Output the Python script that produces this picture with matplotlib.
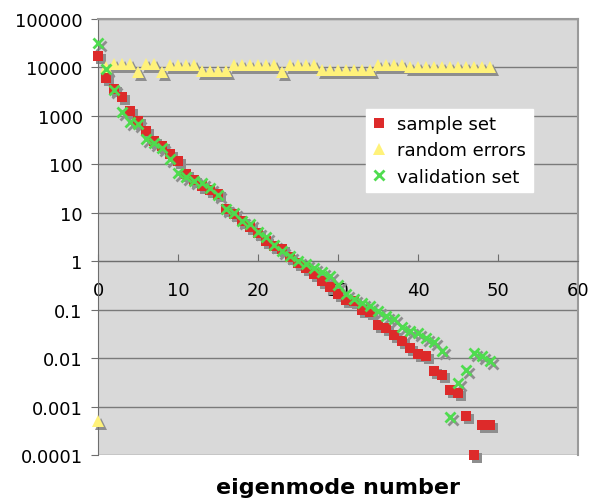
import numpy as np
import matplotlib
matplotlib.use("Agg")
import matplotlib.pyplot as plt
from matplotlib import transforms
from matplotlib.ticker import FixedLocator, FuncFormatter

# eigenvalue spectra per mode index
modes = np.arange(50)
sample_set = [17000, 6100, 3600, 2400, 1250, 780, 490, 300, 240, 160,
              117, 64, 48, 36, 29, 24, 12, 9.3, 6.8, 5.0,
              3.8, 2.6, 2.1, 1.8, 1.2, 0.93, 0.74, 0.54, 0.39, 0.29,
              0.21, 0.16, 0.15, 0.10, 0.09, 0.048, 0.042, 0.030, 0.023, 0.016,
              0.012, 0.011, 0.0054, 0.0044, 0.0022, 0.0019, 0.00065, 0.0001, 0.00042, 0.00042]
random_errors = [0.0005, 10000, 12000, 12000, 12000, 8200, 12000, 12000, 8200, 11500,
                 11500, 11500, 11500, 8600, 8600, 8600, 8600, 11500, 11500, 11500,
                 11500, 11500, 11500, 8200, 11000, 11000, 11000, 11000, 9000, 9000,
                 9000, 9000, 9000, 9000, 9000, 11000, 11000, 11000, 11000, 10000,
                 10000, 10000, 10000, 10000, 10000, 10000, 10000, 10000, 10000, 10000]
validation_set = [32000, 9400, 3400, 1200, 750, 680, 340, 280, 220, 130,
                  67, 56, 46, 42, 33, 23, 12, 10, 6.8, 5.8,
                  4.1, 3.1, 2.2, 1.6, 1.3, 1.0, 0.87, 0.74, 0.59, 0.5,
                  0.33, 0.21, 0.17, 0.14, 0.12, 0.095, 0.075, 0.064, 0.043, 0.037,
                  0.033, 0.026, 0.022, 0.014, 0.0006, 0.0031, 0.0058, 0.0125, 0.011, 0.0088]

y_ticks = [1e-4, 1e-3, 1e-2, 1e-1, 1, 10, 100, 1000, 10000, 100000]
y_labels = ["0.0001", "0.001", "0.01", "0.1", "1", "10", "100", "1000", "10000", "100000"]
x_ticks = [0, 10, 20, 30, 40, 50, 60]

SERIES = [
    ("sample set", sample_set, dict(marker="s", ms=7, mfc="#dd2a2a", mec="#dd2a2a", mew=0)),
    ("random errors", random_errors, dict(marker="^", ms=8.5, mfc="#fff27a", mec="#fff27a", mew=0)),
    ("validation set", validation_set, dict(marker="x", ms=7.5, mec="#4fdc4f", mew=2)),
]

fig = plt.figure(figsize=(5.91, 5.02), dpi=100)
ax = fig.add_axes([98 / 591, 1 - 456 / 502, 480 / 591, 436 / 502])
ax.set_facecolor("#d9d9d9")
ax.set_yscale("log")
ax.set_ylim(1e-4, 1e5)
ax.set_xlim(0, 60)

# drop shadows first, then the markers on top
shadow = transforms.offset_copy(ax.transData, fig=fig, x=2.5, y=-3, units="dots")
for label, vals, style in SERIES:
    st = dict(style)
    st["mfc"] = "#8e8e8e"
    st["mec"] = "#8e8e8e"
    ax.plot(modes, vals, ls="none", transform=shadow, clip_on=False, zorder=2, **st)
handles = []
for label, vals, style in SERIES:
    h, = ax.plot(modes, vals, ls="none", label=label, clip_on=False, zorder=3, **style)
    handles.append(h)

ax.yaxis.set_major_locator(FixedLocator(y_ticks))
ax.yaxis.set_major_formatter(FuncFormatter(lambda v, p: y_labels[y_ticks.index(v)] if v in y_ticks else ""))
ax.yaxis.set_minor_locator(FixedLocator([]))
ax.set_xticks(x_ticks)
ax.grid(axis="y", color="#7a7a7a", lw=1)
ax.set_axisbelow(True)

ax.spines["bottom"].set_position(("data", 1))
ax.spines["bottom"].set_color("#6e6e6e")
ax.spines["left"].set_color("#6e6e6e")
ax.spines["top"].set_color("#9a9a9a")
ax.spines["right"].set_color("#9a9a9a")
ax.spines["right"].set_linewidth(1.5)
ax.spines["top"].set_linewidth(1.5)
ax.tick_params(axis="x", direction="in", length=5, color="#6e6e6e", pad=14, labelsize=13)
ax.tick_params(axis="y", direction="out", length=5, color="#6e6e6e", pad=6, labelsize=13)

fig.text(338 / 591, 1 - 488 / 502, "eigenmode number", ha="center", va="center",
         fontsize=16, fontweight="bold")

leg = ax.legend(handles=handles, loc="upper left", bbox_to_anchor=(0.558, 0.7936),
                borderaxespad=0, fancybox=False, framealpha=1, edgecolor="white",
                fontsize=13, handlelength=0.8, handletextpad=0.6, labelspacing=0.45,
                borderpad=0.35)
leg.set_zorder(5)

fig.savefig("out.png", dpi=100)
